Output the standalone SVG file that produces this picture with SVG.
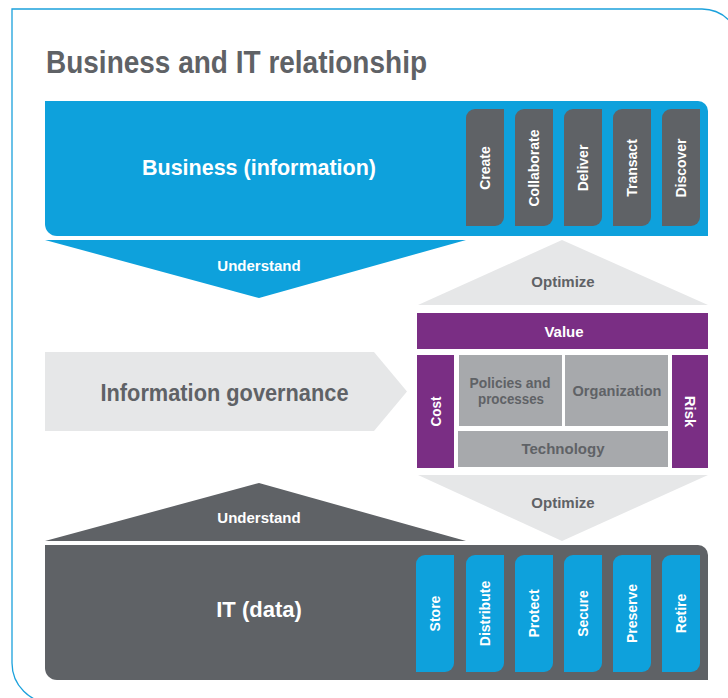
<svg xmlns="http://www.w3.org/2000/svg" width="728" height="698" viewBox="0 0 728 698">
  <style>
    .t { font-family: "Liberation Sans", Arial, sans-serif; font-weight: bold; }
    .w { fill: #ffffff; }
    .g { fill: #5f6266; }
    .blue { fill: #0ea1dc; }
    .dark { fill: #5f6266; }
    .light { fill: #e6e7e8; }
    .mid { fill: #a7a9ac; }
    .purple { fill: #7a2e84; }
    .tab { font-size: 14px; text-anchor: middle; }
    .lbl { font-size: 15px; text-anchor: middle; }
  </style>
  <defs>
    <path id="leaf" d="M9,0 H38 V108 A9,9 0 0 1 29,117 H0 V9 A9,9 0 0 1 9,0 Z"/>
  </defs>
  <rect x="0" y="0" width="728" height="698" fill="#ffffff"/>
  <path d="M740,720 V47 A38,38 0 0 0 702,9 H12 V663 A40,40 0 0 0 52,703 H740" fill="none" stroke="#1ba1dc" stroke-width="1.3"/>
  <text class="t g" x="46" y="73" font-size="31" textLength="381" lengthAdjust="spacingAndGlyphs">Business and IT relationship</text>

  <g id="business">
    <path class="blue" d="M45,101 H698 A10,10 0 0 1 708,111 V236 H57 A12,12 0 0 1 45,224 Z"/>
    <text class="t w" x="259" y="175" font-size="22" text-anchor="middle" textLength="234" lengthAdjust="spacingAndGlyphs">Business (information)</text>
  </g>
  <g id="tab-create"><use href="#leaf" x="466" y="109" class="dark"/><text class="t w tab" transform="translate(490,168) rotate(-90)">Create</text></g>
  <g id="tab-collaborate"><use href="#leaf" x="515" y="109" class="dark"/><text class="t w tab" transform="translate(539,168) rotate(-90)">Collaborate</text></g>
  <g id="tab-deliver"><use href="#leaf" x="564" y="109" class="dark"/><text class="t w tab" transform="translate(588,168) rotate(-90)">Deliver</text></g>
  <g id="tab-transact"><use href="#leaf" x="613" y="109" class="dark"/><text class="t w tab" transform="translate(637,168) rotate(-90)">Transact</text></g>
  <g id="tab-discover"><use href="#leaf" x="662" y="109" class="dark"/><text class="t w tab" transform="translate(686,168) rotate(-90)">Discover</text></g>

  <g id="connectors">
    <g id="understand-top">
      <polygon class="blue" points="45,240 466,240 259,298"/>
      <text class="t w lbl" x="259" y="271">Understand</text>
    </g>
    <g id="optimize-top">
      <polygon class="light" points="418,305 562,240 708,305"/>
      <text class="t g lbl" x="563" y="287">Optimize</text>
    </g>
    <g id="optimize-bottom">
      <polygon class="light" points="418,475 708,475 562,541"/>
      <text class="t g lbl" x="563" y="508">Optimize</text>
    </g>
    <g id="understand-bottom">
      <polygon class="dark" points="45,541 259,483 466,541"/>
      <text class="t w lbl" x="259" y="523">Understand</text>
    </g>
  </g>

  <g id="info-governance">
    <polygon class="light" points="45,352 374,352 407,391.5 374,431 45,431"/>
    <text class="t g" x="224.5" y="401" font-size="23" text-anchor="middle" textLength="248" lengthAdjust="spacingAndGlyphs">Information governance</text>
  </g>

  <g id="value">
    <rect class="purple" x="417" y="313" width="291" height="36"/>
    <text class="t w lbl" x="564" y="337">Value</text>
  </g>
  <g id="cost">
    <rect class="purple" x="417" y="355" width="37" height="113"/>
    <text class="t w lbl" transform="translate(441,411.5) rotate(-90)" textLength="30" lengthAdjust="spacingAndGlyphs">Cost</text>
  </g>
  <g id="risk">
    <rect class="purple" x="672" y="355" width="36" height="113"/>
    <text class="t w lbl" transform="translate(685,411.5) rotate(90)">Risk</text>
  </g>
  <g id="policies">
    <rect class="mid" x="459" y="355" width="103" height="71"/>
    <text class="t g" x="510" y="387.5" font-size="14" text-anchor="middle" textLength="81" lengthAdjust="spacingAndGlyphs">Policies and</text>
    <text class="t g" x="511" y="403.5" font-size="14" text-anchor="middle" textLength="66" lengthAdjust="spacingAndGlyphs">processes</text>
  </g>
  <g id="organization">
    <rect class="mid" x="565" y="355" width="103" height="71"/>
    <text class="t g lbl" x="617" y="396" textLength="89" lengthAdjust="spacingAndGlyphs">Organization</text>
  </g>
  <g id="technology">
    <rect class="mid" x="458" y="431" width="210" height="36"/>
    <text class="t g lbl" x="563" y="453.5">Technology</text>
  </g>

  <g id="it">
    <path class="dark" d="M45,545 H698 A10,10 0 0 1 708,555 V680 H57 A12,12 0 0 1 45,668 Z"/>
    <text class="t w" x="259" y="617" font-size="22" text-anchor="middle">IT (data)</text>
  </g>
  <g id="tab-store"><use href="#leaf" x="416" y="555" class="blue"/><text class="t w tab" transform="translate(440,613.5) rotate(-90)">Store</text></g>
  <g id="tab-distribute"><use href="#leaf" x="466" y="555" class="blue"/><text class="t w tab" transform="translate(490,613.5) rotate(-90)">Distribute</text></g>
  <g id="tab-protect"><use href="#leaf" x="515" y="555" class="blue"/><text class="t w tab" transform="translate(539,613.5) rotate(-90)">Protect</text></g>
  <g id="tab-secure"><use href="#leaf" x="564" y="555" class="blue"/><text class="t w tab" transform="translate(588,613.5) rotate(-90)">Secure</text></g>
  <g id="tab-preserve"><use href="#leaf" x="613" y="555" class="blue"/><text class="t w tab" transform="translate(637,613.5) rotate(-90)">Preserve</text></g>
  <g id="tab-retire"><use href="#leaf" x="662" y="555" class="blue"/><text class="t w tab" transform="translate(686,613.5) rotate(-90)">Retire</text></g>
</svg>
